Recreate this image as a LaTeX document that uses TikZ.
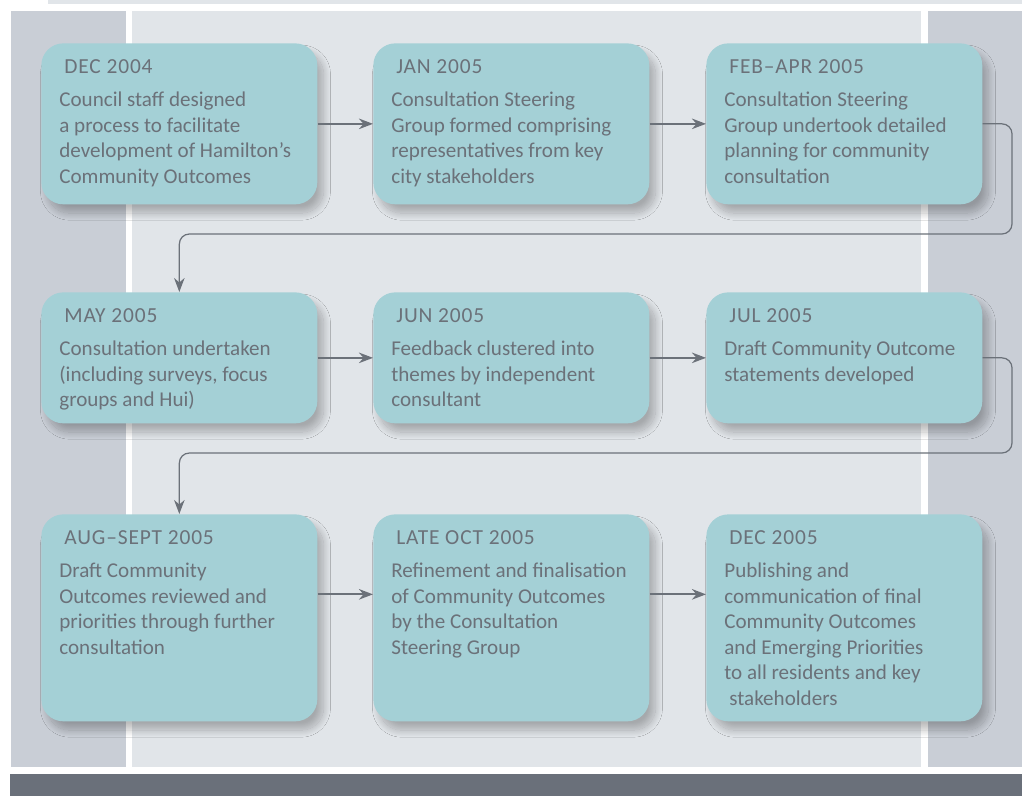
\documentclass[tikz,border=0pt]{standalone}
\usepackage{fontspec}
\setmainfont{Carlito}
\newfontfamily\datefont[LetterSpace=4.0]{Carlito}
\usetikzlibrary{arrows.meta,shadows.blur}
\definecolor{boxteal}{RGB}{164,208,214}
\definecolor{inkgray}{RGB}{107,113,121}
\definecolor{paneldark}{RGB}{201,206,214}
\definecolor{panellight}{RGB}{225,229,233}
\definecolor{bandgray}{RGB}{106,112,122}
% #1 box height, #2 date, #3 description
\newcommand{\stagetext}[3]{%
  \parbox[t][#1][t]{4.8cm}{\raggedright
    \fontsize{12pt}{14.5pt}\selectfont
    \rule{0pt}{17.4pt}\hspace{0.1cm}{\datefont\fontsize{12.2pt}{14.5pt}\selectfont #2}\\[4.3pt]
    #3}}
\tikzset{
  stage/.style={
    anchor = north west,
    fill = boxteal,
    text = inkgray,
    rounded corners = 0.44cm,
    inner xsep = 0.36cm,
    inner ysep = 0pt,
    minimum width = 5.52cm,
    blur shadow={shadow xshift=3.5pt, shadow yshift=-5pt,
      shadow blur radius=4pt, shadow blur steps=20, shadow opacity=26}
  },
  flow/.style={
    draw = inkgray,
    line width = 1.1pt,
    -{Stealth[length=8pt,width=6pt,inset=2.6pt]}
  },
  loopback/.style={
    flow,
    line width = 0.7pt,
    rounded corners = 0.2cm
  }
}
\begin{document}
\begin{tikzpicture}[x=0.02cm, y=-0.02cm]
  \useasboundingbox (0,0) rectangle (1022,796);
  \fill[white] (0,0) rectangle (1022,796);
  \fill[panellight] (48,0) rectangle (1022,4);
  \fill[paneldark] (11,11) rectangle (126,767);
  \fill[panellight] (132,11) rectangle (921,767);
  \fill[paneldark] (928,11) rectangle (1022,767);
  \fill[bandgray] (10,774) rectangle (1022,796);

  % first row
  \node[stage] (s1) at (41,43) {\stagetext{3.22cm}{DEC 2004}{Council staff designed\\a process to facilitate\\development of Hamilton’s\\Community Outcomes}};
  \node[stage] (s2) at (373,43) {\stagetext{3.22cm}{JAN 2005}{Consultation Steering\\Group formed comprising\\representatives from key\\city stakeholders}};
  \node[stage] (s3) at (706,43) {\stagetext{3.22cm}{FEB–APR 2005}{Consultation Steering\\Group undertook detailed\\planning for community\\consultation}};

  % second row
  \node[stage] (s4) at (41,292) {\stagetext{2.62cm}{MAY 2005}{Consultation undertaken\\(including surveys, focus\\groups and Hui)}};
  \node[stage] (s5) at (373,292) {\stagetext{2.62cm}{JUN 2005}{Feedback clustered into\\themes by independent\\consultant}};
  \node[stage] (s6) at (706,292) {\stagetext{2.62cm}{JUL 2005}{Draft Community Outcome\\statements developed}};

  % third row
  \node[stage] (s7) at (41,514) {\stagetext{4.14cm}{AUG–SEPT 2005}{Draft Community\\Outcomes reviewed and\\priorities through further\\consultation}};
  \node[stage] (s8) at (373,514) {\stagetext{4.14cm}{LATE OCT 2005}{Refinement and finalisation\\of Community Outcomes\\by the Consultation\\Steering Group}};
  \node[stage] (s9) at (706,514) {\stagetext{4.14cm}{DEC 2005}{Publishing and\\communication of final\\Community Outcomes\\and Emerging Priorities\\to all residents and key\\\hspace{0.1cm}stakeholders}};

  \coordinate (turn1) at (1012,234);
  \coordinate (turn2) at (1012,453);

  \draw[flow] (s1) -- (s2);
  \draw[flow] (s2) -- (s3);
  \draw[loopback] (s3.east) -| (turn1) -| (s4.north);
  \draw[flow] (s4) -- (s5);
  \draw[flow] (s5) -- (s6);
  \draw[loopback] (s6.east) -| (turn2) -| (s7.north);
  \draw[flow] ([yshift=0.47cm]s7.east) -- ([yshift=0.47cm]s8.west);
  \draw[flow] ([yshift=0.47cm]s8.east) -- ([yshift=0.47cm]s9.west);
\end{tikzpicture}
\end{document}
